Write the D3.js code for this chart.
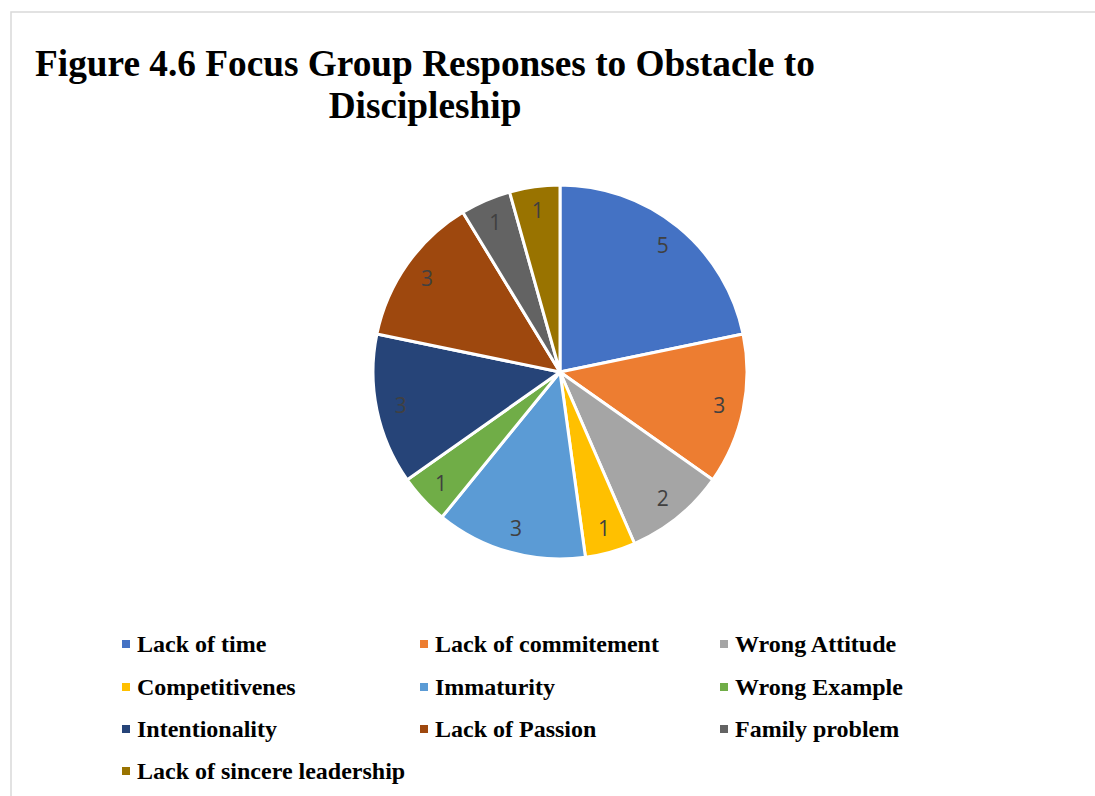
<!DOCTYPE html>
<html><head><meta charset="utf-8">
<script src="https://cdn.jsdelivr.net/npm/d3@7"></script>
<style>html,body{margin:0;padding:0;background:#fff;overflow:hidden}</style>
</head><body>
<svg id="chart" width="1095" height="796"></svg>
<script>
const categories = ["Lack of time","Lack of commitement","Wrong Attitude","Competitivenes","Immaturity","Wrong Example","Intentionality","Lack of Passion","Family problem","Lack of sincere leadership"];
const values = [5,3,2,1,3,1,3,3,1,1];
const colors = ["#4472C4","#ED7D31","#A5A5A5","#FFC000","#5B9BD5","#70AD47","#264478","#9E480E","#636363","#997300"];
const titleLines = ["Figure 4.6 Focus Group Responses to Obstacle to","Discipleship"];

const svg = d3.select("#chart");
// chart frame
svg.append("rect").attr("x",11).attr("y",12).attr("width",1200).attr("height",900)
  .attr("fill","none").attr("stroke","#d9d9d9").attr("stroke-width",1.5);

// title
const title = svg.append("g").attr("font-family","'Liberation Serif','Times New Roman',serif")
  .attr("font-weight","bold").attr("font-size",37.3).attr("fill","#000");
title.append("text").attr("x",35).attr("y",76).text(titleLines[0]);
title.append("text").attr("x",425).attr("y",118).attr("text-anchor","middle").text(titleLines[1]);

// pie
const cx = 560, cy = 372, r = 187;
const pie = d3.pie().sort(null).value(d=>d);
const arcs = pie(values);
const arc = d3.arc().innerRadius(0).outerRadius(r);
const labelArc = d3.arc().innerRadius(r*0.87).outerRadius(r*0.87);
const g = svg.append("g").attr("transform",`translate(${cx},${cy})`);
g.selectAll("path").data(arcs).join("path")
  .attr("d",arc).attr("fill",(d,i)=>colors[i])
  .attr("stroke","#fff").attr("stroke-width",3).attr("stroke-linejoin","round");
g.selectAll("text").data(arcs).join("text")
  .attr("transform",d=>`translate(${labelArc.centroid(d)})`)
  .attr("text-anchor","middle").attr("dy","0.36em")
  .attr("font-family","'Open Sans','Liberation Sans',sans-serif")
  .attr("font-size",21).attr("fill","#404040")
  .text(d=>d.data);

// legend
const colX = [122,420,720];
const rowY = [644,687,729,771];
const leg = svg.append("g");
categories.forEach((c,i)=>{
  const x = colX[i%3], y = rowY[Math.floor(i/3)];
  leg.append("rect").attr("x",x).attr("y",y-4).attr("width",8).attr("height",8).attr("fill",colors[i]);
  leg.append("text").attr("x",x+15).attr("y",y+8)
    .attr("font-family","'Liberation Serif','Times New Roman',serif")
    .attr("font-weight","bold").attr("font-size",24).attr("fill","#000").text(c);
});
</script>
</body></html>
